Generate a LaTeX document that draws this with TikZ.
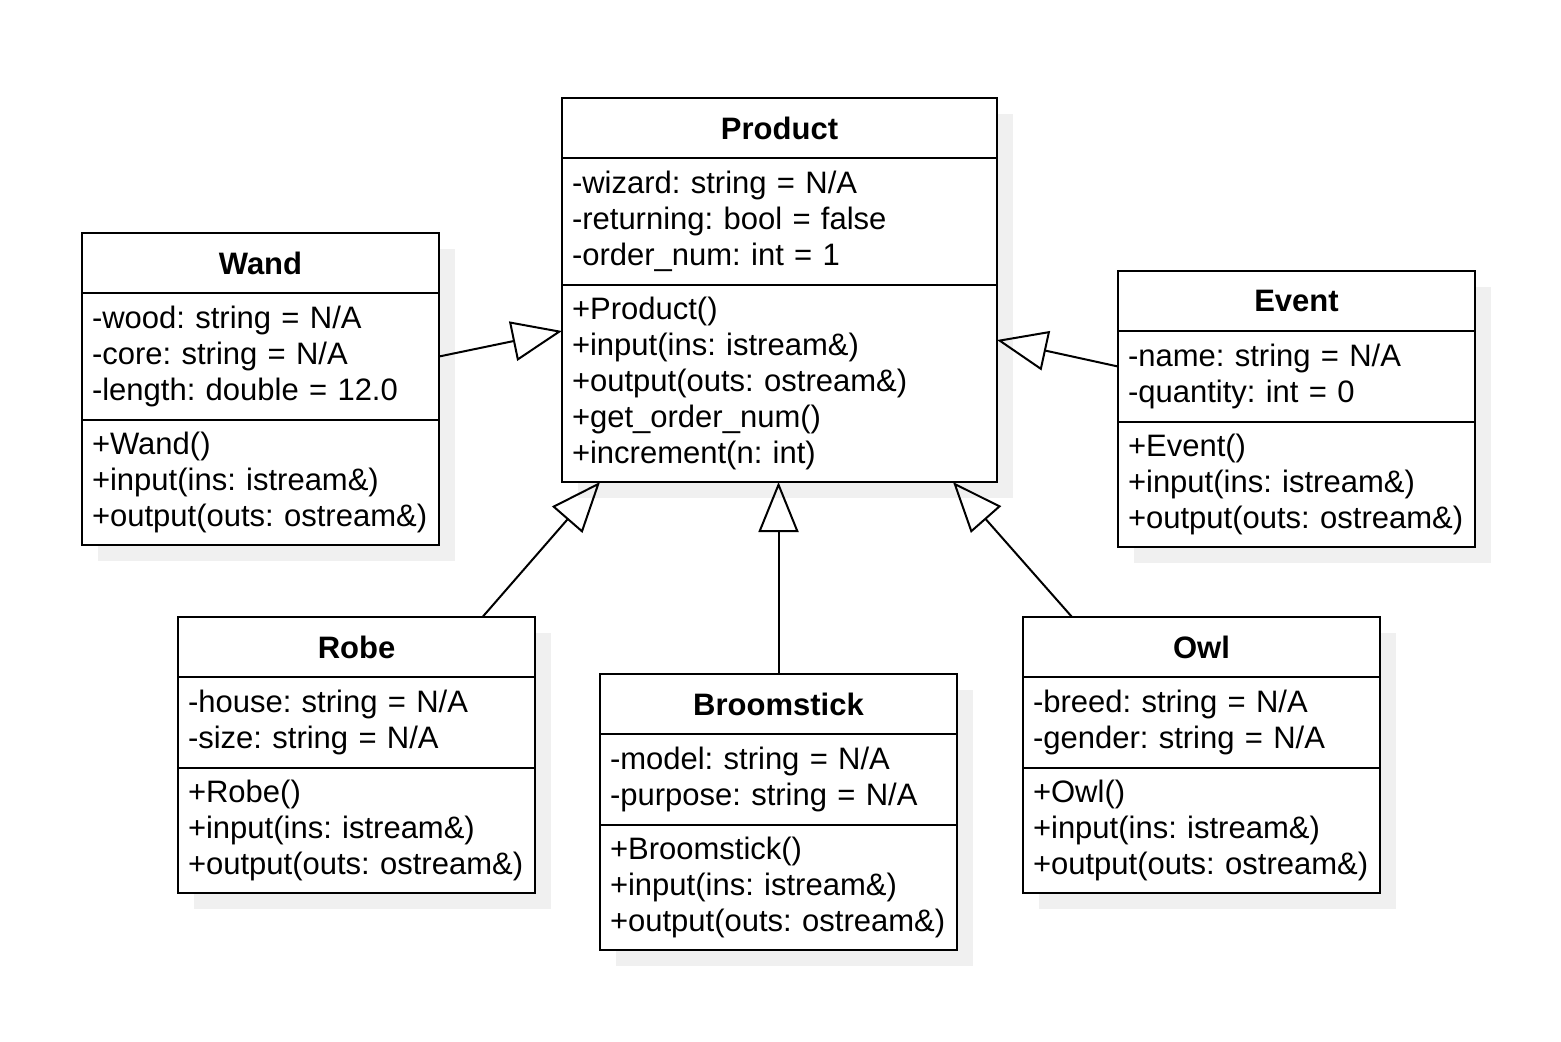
\documentclass[tikz,border=0pt]{standalone}
\usepackage{fontspec}
\setmainfont{Liberation Sans}
\usetikzlibrary{arrows.meta,positioning,backgrounds}
\frenchspacing
\hyphenpenalty=10000
\exhyphenpenalty=10000

\newcommand{\classfont}{\fontsize{15.5}{18}\selectfont}

\tikzset{
	classhead/.style={draw, line width=1.3pt, fill=white, font=\classfont\bfseries, inner xsep=5pt,
		align=center, minimum height=30pt, outer sep=0pt},
	classpart/.style={draw, line width=1.3pt, fill=white, font=\classfont, inner xsep=5pt,
		align=left, outer sep=0pt},
	wide/.style={text width=207.5pt},
	narrow/.style={text width=168.5pt},
	shadowfill/.style={fill=black!6},
	inherit/.style={-{Triangle[open,length=25pt,width=20pt]}, line width=1pt}
}

\begin{document}
\begin{tikzpicture}[x=0.5pt, y=-0.5pt]
	\useasboundingbox (0,0) rectangle (1561,1041);

	% base class
	\node[classhead, wide, anchor=north west] (product) at (562,98) {Product};
	\node[classpart, wide, minimum height=63.5pt, below=0pt of product] (product-attr)
		{-wizard: string = N/A\\-returning: bool = false\\-order\_num: int = 1};
	\node[classpart, wide, minimum height=98.5pt, below=0pt of product-attr] (product-ops)
		{+Product()\\+input(ins: istream\&)\\+output(outs: ostream\&)\\+get\_order\_num()\\+increment(n: int)};

	% wand
	\node[classhead, narrow, anchor=north west] (wand) at (82,233) {Wand};
	\node[classpart, narrow, minimum height=63.5pt, below=0pt of wand] (wand-attr)
		{-wood: string = N/A\\-core: string = N/A\\-length: double = 12.0};
	\node[classpart, narrow, minimum height=62.5pt, below=0pt of wand-attr] (wand-ops)
		{+Wand()\\+input(ins: istream\&)\\+output(outs: ostream\&)};

	% event
	\node[classhead, narrow, anchor=north west] (event) at (1118,271) {Event};
	\node[classpart, narrow, minimum height=45.5pt, below=0pt of event] (event-attr)
		{-name: string = N/A\\-quantity: int = 0};
	\node[classpart, narrow, minimum height=62.5pt, below=0pt of event-attr] (event-ops)
		{+Event()\\+input(ins: istream\&)\\+output(outs: ostream\&)};

	% robe
	\node[classhead, narrow, anchor=north west] (robe) at (178,617) {Robe};
	\node[classpart, narrow, minimum height=45.5pt, below=0pt of robe] (robe-attr)
		{-house: string = N/A\\-size: string = N/A};
	\node[classpart, narrow, minimum height=62.5pt, below=0pt of robe-attr] (robe-ops)
		{+Robe()\\+input(ins: istream\&)\\+output(outs: ostream\&)};

	% broomstick
	\node[classhead, narrow, anchor=north west] (broom) at (600,674) {Broomstick};
	\node[classpart, narrow, minimum height=45.5pt, below=0pt of broom] (broom-attr)
		{-model: string = N/A\\-purpose: string = N/A};
	\node[classpart, narrow, minimum height=62.5pt, below=0pt of broom-attr] (broom-ops)
		{+Broomstick()\\+input(ins: istream\&)\\+output(outs: ostream\&)};

	% owl
	\node[classhead, narrow, anchor=north west] (owl) at (1023,617) {Owl};
	\node[classpart, narrow, minimum height=45.5pt, below=0pt of owl] (owl-attr)
		{-breed: string = N/A\\-gender: string = N/A};
	\node[classpart, narrow, minimum height=62.5pt, below=0pt of owl-attr] (owl-ops)
		{+Owl()\\+input(ins: istream\&)\\+output(outs: ostream\&)};

	\begin{scope}[on background layer]
		\foreach \c in {product,wand,event,robe,broom,owl}
			\fill[shadowfill] ([shift={(8pt,-8pt)}]\c.north west) rectangle ([shift={(8pt,-8pt)}]\c-ops.south east);
	\end{scope}

	% inheritance
	\draw[inherit] (wand-attr.east) -- ([yshift=-23pt]product-ops.north west);
	\draw[inherit] ([yshift=5pt]event-attr.west) -- ([yshift=-27.5pt]product-ops.north east);
	\draw[inherit] ([xshift=63pt]robe.north) -- ([xshift=19pt]product-ops.south west);
	\draw[inherit] (broom.north) -- (broom.north |- product-ops.south);
	\draw[inherit] ([xshift=-64.75pt]owl.north) -- ([xshift=-22pt]product-ops.south east);
\end{tikzpicture}
\end{document}
